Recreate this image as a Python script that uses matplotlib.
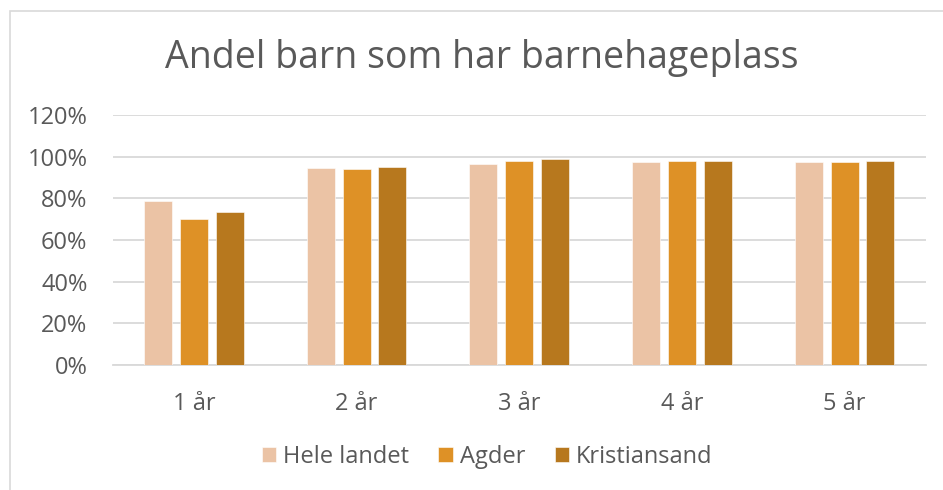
import matplotlib
matplotlib.use("Agg")
import matplotlib.pyplot as plt
from matplotlib.patches import Rectangle
import numpy as np

categories = ["1 år", "2 år", "3 år", "4 år", "5 år"]
series_names = ["Hele landet", "Agder", "Kristiansand"]
hele_landet = [78.9, 94.4, 96.6, 97.4, 97.4]
agder = [69.9, 94.2, 97.7, 98.0, 97.4]
kristiansand = [73.6, 94.9, 98.8, 97.7, 98.0]
colors = ["#EBC3A5", "#DE9126", "#B7781E"]
yticks = [0, 20, 40, 60, 80, 100, 120]

plt.rcParams['font.family'] = ['Open Sans', 'DejaVu Sans']
text_color = "#595959"
grid_color = "#D9D9D9"

W, H = 943, 490
fig = plt.figure(figsize=(W / 100, H / 100), dpi=100)

# outer chart border
fig.patches.append(Rectangle((9.5 / W, -0.1), 1.2, (H - 10.5) / H + 0.1,
                             transform=fig.transFigure, fill=False,
                             edgecolor=grid_color, linewidth=1.2))

left, right = 112.5, 926
top, bottom = 115, 365
ax = fig.add_axes([left / W, 1 - bottom / H, (right - left) / W, (bottom - top) / H])

x = np.arange(len(categories))
bw = 0.172
step = 0.22
for i, (name, vals) in enumerate(zip(series_names, [hele_landet, agder, kristiansand])):
    ax.bar(x + (i - 1) * step, vals, width=bw, color=colors[i], label=name,
           edgecolor="white", linewidth=0.4, zorder=3)

ax.set_xlim(-0.5, len(categories) - 0.5)
ax.set_ylim(0, 120)
ax.set_yticks(yticks)
ax.set_yticklabels([f"{v}%" for v in yticks])
ax.set_xticks(x)
ax.set_xticklabels(categories)
ax.yaxis.grid(True, color=grid_color, linewidth=1.3, zorder=0)
ax.tick_params(axis="both", length=0, labelsize=17, colors=text_color)
ax.tick_params(axis="y", pad=18)
ax.tick_params(axis="x", pad=19.5)
for s in ["top", "right", "left"]:
    ax.spines[s].set_visible(False)
ax.spines["bottom"].set_color(grid_color)
ax.spines["bottom"].set_linewidth(1.3)

fig.text(482 / W, 1 - 58 / H, "Andel barn som har barnehageplass",
         ha="center", va="center", fontsize=27, color=text_color)

leg = fig.legend(loc="center", bbox_to_anchor=(487 / W, 1 - 457 / H), ncol=3,
                 frameon=False, fontsize=17, handlelength=0.6, handleheight=0.6,
                 handletextpad=0.3, columnspacing=1.25)
for t in leg.get_texts():
    t.set_color(text_color)

fig.savefig("out.png", dpi=100, facecolor="white")
